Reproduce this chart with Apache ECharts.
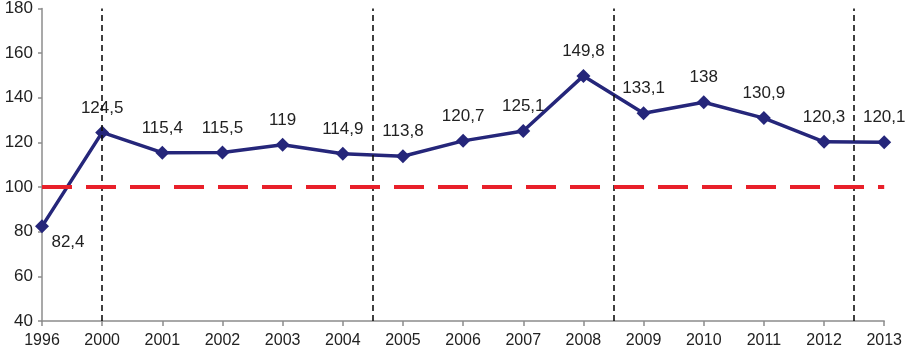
<!DOCTYPE html>
<html>
<head>
<meta charset="utf-8">
<script src="https://cdn.jsdelivr.net/npm/echarts@6/dist/echarts.min.js"></script>
<style>
  html, body { margin: 0; padding: 0; background: #fff; }
  #chart { width: 905px; height: 350px; }
</style>
</head>
<body>
<div id="chart"></div>
<script>
  var years = ['1996', '2000', '2001', '2002', '2003', '2004', '2005', '2006', '2007', '2008', '2009', '2010', '2011', '2012', '2013'];
  var values = [82.4, 124.5, 115.4, 115.5, 119, 114.9, 113.8, 120.7, 125.1, 149.8, 133.1, 138, 130.9, 120.3, 120.1];
  var valueLabels = ['82,4', '124,5', '115,4', '115,5', '119', '114,9', '113,8', '120,7', '125,1', '149,8', '133,1', '138', '130,9', '120,3', '120,1'];
  // positions of the vertical dashed separators (in category units)
  var separators = [1, 5.5, 9.5, 13.5];
  var baseline = 100;

  // only the first label sits under its point
  var labelShift = {0: [26, 40]};

  var chart = echarts.init(document.getElementById('chart'));
  var option = {
    animation: false,
    grid: {left: 42, right: 19, top: 8, bottom: 29},
    xAxis: {
      type: 'value',
      min: 0,
      max: years.length - 1,
      interval: 1,
      splitLine: {show: false},
      axisLine: {lineStyle: {color: '#8c8c8c', width: 1.5}},
      axisTick: {length: 5, lineStyle: {color: '#8c8c8c', width: 1.5}},
      axisLabel: {
        color: '#222',
        fontSize: 16,
        fontFamily: 'Liberation Sans, Arial',
        margin: 12,
        formatter: function (v) { return years[v] || ''; }
      }
    },
    yAxis: {
      type: 'value',
      min: 40,
      max: 180,
      interval: 20,
      splitLine: {show: false},
      axisLine: {show: true, lineStyle: {color: '#8c8c8c', width: 1.5}},
      axisTick: {show: true, length: 4, lineStyle: {color: '#8c8c8c', width: 1.5}},
      axisLabel: {color: '#222', fontSize: 17, fontFamily: 'Liberation Sans, Arial', margin: 9}
    },
    series: [{
      type: 'line',
      data: values.map(function (v, i) {
        var item = {value: [i, v]};
        if (labelShift[i]) item.label = {offset: labelShift[i]};
        return item;
      }),
      symbol: 'diamond',
      symbolSize: 14,
      lineStyle: {color: '#25267a', width: 3.5},
      itemStyle: {color: '#25267a'},
      label: {
        show: true,
        position: 'top',
        distance: 9,
        color: '#222',
        fontSize: 17,
        fontFamily: 'Liberation Sans, Arial',
        formatter: function (p) { return valueLabels[p.dataIndex]; }
      },
      markLine: {
        silent: true,
        symbol: 'none',
        label: {show: false},
        data: separators.map(function (s) {
          return {xAxis: s, lineStyle: {color: '#111', type: [6, 4], width: 1.6}};
        }).concat([{yAxis: baseline, lineStyle: {color: '#e8202a', type: [30, 14], width: 4}}])
      },
      z: 3
    }]
  };
  chart.setOption(option);
</script>
</body>
</html>
